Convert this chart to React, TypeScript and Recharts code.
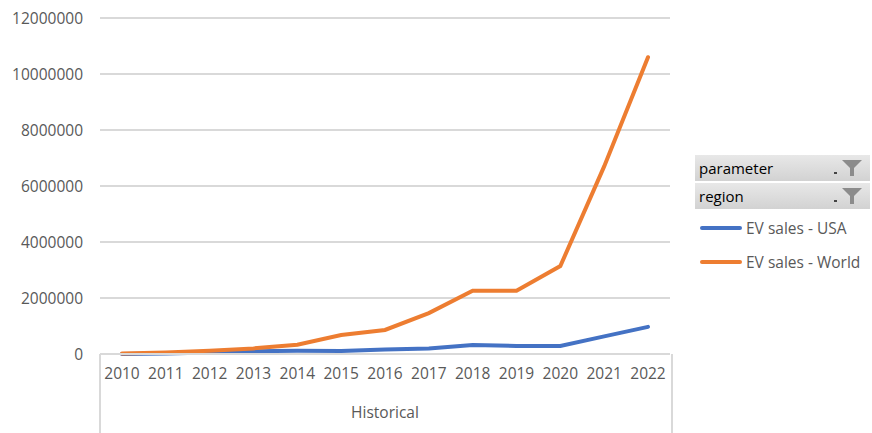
import { LineChart, Line, XAxis, YAxis, CartesianGrid } from "recharts";

const years = ["2010", "2011", "2012", "2013", "2014", "2015", "2016", "2017", "2018", "2019", "2020", "2021", "2022"];
const usaSales = [2000, 18000, 50000, 100000, 120000, 110000, 160000, 200000, 320000, 290000, 290000, 630000, 970000];
const worldSales = [17000, 55000, 120000, 200000, 330000, 680000, 860000, 1460000, 2260000, 2260000, 3140000, 6700000, 10600000];
const yTicks = [0, 2000000, 4000000, 6000000, 8000000, 10000000, 12000000];
const filters = ["parameter", "region"];
const seriesNames = ["EV sales - USA", "EV sales - World"];
const seriesColors = ["#4472C4", "#ED7D31"];

const data = years.map((year, i) => ({
  year,
  usa: usaSales[i],
  world: worldSales[i],
}));

const FONT = "'Open Sans', sans-serif";
const GRID = "#d9d9d9";

function FilterButton({ label }: { label: string }) {
  return (
    <div
      style={{
        width: 175,
        height: 26,
        marginBottom: 2,
        background: "linear-gradient(#e8e8e8, #d2d2d2)",
        display: "flex",
        alignItems: "center",
        justifyContent: "space-between",
        boxSizing: "border-box",
        paddingLeft: 4,
        paddingRight: 4,
        color: "#000",
        fontSize: 15,
      }}
    >
      <span>{label}</span>
      <svg width="34" height="22" viewBox="0 0 34 22">
        <rect x="2" y="15" width="3" height="2" fill="#444" />
        <path d="M10 3 L30 3 L22 11 L22 19 L18 19 L18 11 Z" fill="#8c8c8c" />
      </svg>
    </div>
  );
}

function ChartLegend() {
  return (
    <div style={{ position: "absolute", left: 695, top: 155, width: 177, fontFamily: FONT }}>
      {filters.map((f) => (
        <FilterButton key={f} label={f} />
      ))}
      {seriesNames.map((name, i) => (
        <div key={name} style={{ display: "flex", alignItems: "center", height: 34, paddingLeft: 5, color: "#595959", fontSize: 15.5 }}>
          <span style={{ display: "inline-block", width: 42, height: 4, borderRadius: 2, background: seriesColors[i], marginRight: 4 }} />
          {name}
        </div>
      ))}
    </div>
  );
}

export default function App() {
  return (
    <div style={{ position: "absolute", left: 0, top: 0, width: 872, height: 433, background: "#fff", fontFamily: FONT }}>
      <LineChart width={872} height={433} data={data} margin={{ top: 18, right: 202, left: 0, bottom: 0 }}>
        <CartesianGrid vertical={false} stroke={GRID} strokeWidth={2} />
        <XAxis
          dataKey="year"
          height={79}
          interval={0}
          padding={{ left: 22, right: 22 }}
          tickSize={0}
          tickMargin={14}
          axisLine={{ stroke: GRID, strokeWidth: 2 }}
          tick={{ fill: "#595959", fontSize: 15.5, fontFamily: FONT }}
          label={{ value: "Historical", position: "insideBottom", offset: 15, fill: "#595959", fontSize: 15.5, fontFamily: FONT }}
        />
        <YAxis
          width={100}
          domain={[0, 12000000]}
          ticks={yTicks}
          tickSize={0}
          tickMargin={17}
          axisLine={false}
          tickLine={false}
          tick={{ fill: "#595959", fontSize: 15.5, fontFamily: FONT }}
        />
        <Line type="linear" dataKey="usa" name={seriesNames[0]} stroke={seriesColors[0]} strokeWidth={4} strokeLinecap="round" dot={false} isAnimationActive={false} />
        <Line type="linear" dataKey="world" name={seriesNames[1]} stroke={seriesColors[1]} strokeWidth={4} strokeLinecap="round" dot={false} isAnimationActive={false} />
      </LineChart>
      <ChartLegend />
      <div
        style={{
          position: "absolute",
          left: 99,
          top: 354,
          width: 570,
          height: 79,
          borderLeft: `2px solid ${GRID}`,
          borderRight: `2px solid ${GRID}`,
          pointerEvents: "none",
        }}
      />
    </div>
  );
}
